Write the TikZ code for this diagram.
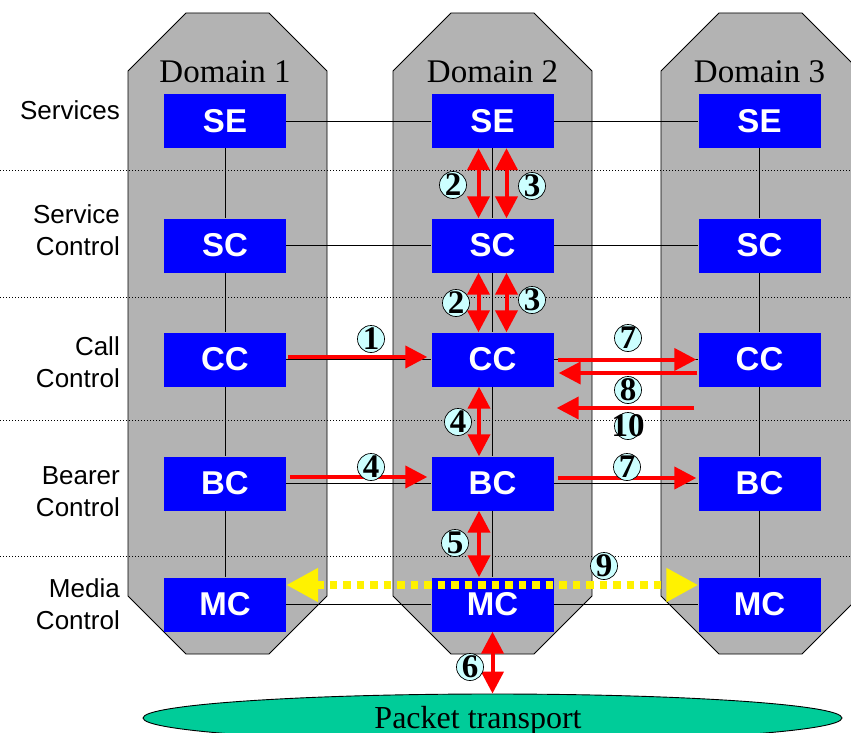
\documentclass[tikz,border=0pt]{standalone}
\usepackage{fontspec}
\setmainfont{Liberation Serif}
\setsansfont{Liberation Sans}
\usetikzlibrary{arrows.meta,shapes.geometric}
\definecolor{domgray}{HTML}{B3B3B3}
\definecolor{boxblue}{HTML}{0000FF}
\definecolor{seqcyan}{HTML}{CCFFFF}
\definecolor{transgreen}{HTML}{00CC99}
\newcommand{\seqnum}[1]{\makebox[0pt]{#1}}

\begin{document}
\begin{tikzpicture}[x=1pt,y=-1pt,>={Triangle[length=22pt,width=22pt]}]
	\tikzstyle{domainbox}=[fill=domgray, draw=black, line width=0.9pt]
	\tikzstyle{fe}=[rectangle, fill=boxblue, text=white, minimum width=122pt, minimum height=54pt, font=\sffamily\bfseries\fontsize{33}{33}\selectfont]
	\tikzstyle{layer}=[anchor=east, align=right, inner sep=0pt, font=\sffamily\fontsize{26}{32}\selectfont]
	\tikzstyle{link}=[draw=black, line width=0.9pt]
	\tikzstyle{layersep}=[draw=black, line width=0.8pt, dash pattern=on 1pt off 2pt]
	\tikzstyle{msg}=[draw=red, line width=4pt]
	\tikzstyle{media}=[draw=yellow, line width=8pt, dash pattern=on 7.5pt off 6pt, {Triangle[length=32pt,width=32pt]}-{Triangle[length=32pt,width=32pt]}]
	\tikzstyle{seq}=[circle, draw=black, line width=0.7pt, fill=seqcyan, minimum size=27pt, inner sep=0pt, font=\bfseries\fontsize{33}{33}\selectfont]

	\useasboundingbox (0,0) rectangle (851,733);

	% domains
	\foreach \l in {128,393,661}
		\draw[domainbox] (\l,71) -- (\l+58,13) -- (\l+141,13) -- (\l+199,71) -- (\l+199,596) -- (\l+141,654) -- (\l+58,654) -- (\l,596) -- cycle;
	\foreach \d/\x in {1/225,2/492.5,3/759.5}
		\node[anchor=base, font=\fontsize{33}{33}\selectfont] (dom\d) at (\x,83) {Domain \d};

	% layers
	\foreach \y in {170,297,420,556}
		\draw[layersep] (0,\y) -- (851,\y);
	\node[layer] (lse) at (120,110) {Services};
	\node[layer] (lsc) at (120,230) {Service\\Control};
	\node[layer] (lcc) at (120,362) {Call\\Control};
	\node[layer] (lbc) at (120,492) {Bearer\\Control};
	\node[layer] (lmc) at (120,604) {Media\\Control};

	% functional entities
	\foreach \d/\x in {1/225,2/492.5,3/759.5} {
		\node[fe] (se\d) at (\x,121) {SE};
		\node[fe] (sc\d) at (\x,245.5) {SC};
		\node[fe] (cc\d) at (\x,359.5) {CC};
		\node[fe] (bc\d) at (\x,483.5) {BC};
		\node[fe] (mc\d) at (\x,604.5) {MC};
	}
	\foreach \r in {se,sc,cc,bc,mc}
		\draw[link] (\r1.east) -- (\r2.west) (\r2.east) -- (\r3.west);
	\foreach \d in {1,2,3}
		\draw[link] (se\d) -- (sc\d) (sc\d) -- (cc\d) (cc\d) -- (bc\d) (bc\d) -- (mc\d);

	\node[ellipse, draw=black, line width=0.9pt, fill=transgreen, minimum width=699pt, minimum height=48pt, inner sep=0pt] (pt) at (492.5,718) {};
	\node[anchor=base, font=\fontsize{32}{32}\selectfont] (ptlabel) at (478,728) {Packet transport};

	% messages
	\draw[msg,<->] ([xshift=-14pt]se2.south) -- ([xshift=-14pt]sc2.north);
	\draw[msg,<->] ([xshift=14pt]se2.south) -- ([xshift=14pt]sc2.north);
	\draw[msg,<->] ([xshift=-14pt]sc2.south) -- ([xshift=-14pt]cc2.north);
	\draw[msg,<->] ([xshift=14pt]sc2.south) -- ([xshift=14pt]cc2.north);
	\draw[msg,->] ([xshift=2pt,yshift=2.5pt]cc1.east) -- ([xshift=-4pt,yshift=2.5pt]cc2.west);
	\draw[msg,->] ([xshift=4pt]cc2.east) -- ([xshift=-2pt]cc3.west);
	\draw[msg,->] ([xshift=-1pt,yshift=-13.5pt]cc3.west) -- ([xshift=5pt,yshift=-13.5pt]cc2.east);
	\draw[msg,->] ([xshift=-4pt,yshift=-48.5pt]cc3.west) -- ([xshift=3pt,yshift=-48.5pt]cc2.east);
	\draw[msg,<->] ([xshift=-13.5pt]cc2.south) -- ([xshift=-13.5pt]bc2.north);
	\draw[msg,->] ([xshift=4pt,yshift=6.5pt]bc1.east) -- ([xshift=-4pt,yshift=6.5pt]bc2.west);
	\draw[msg,->] ([xshift=4pt,yshift=5.5pt]bc2.east) -- ([xshift=-2pt,yshift=5.5pt]bc3.west);
	\draw[msg,<->] ([xshift=-13.5pt]bc2.south) -- ([xshift=-13.5pt]mc2.north);
	\draw[msg,<->] (mc2.south) -- (pt.north);
	\draw[media] ([yshift=19.5pt]mc1.east) -- ([yshift=19.5pt]mc3.west);

	% sequence numbers
	\node[seq] (n1) at (371,339) {\seqnum{1}};
	\node[seq] (n2a) at (453,185) {\seqnum{2}};
	\node[seq] (n3a) at (532,186) {\seqnum{3}};
	\node[seq] (n2b) at (456,303) {\seqnum{2}};
	\node[seq] (n3b) at (532,300) {\seqnum{3}};
	\node[seq] (n7a) at (628,338) {\seqnum{7}};
	\node[seq] (n8) at (628,390) {\seqnum{8}};
	\node[seq] (n10) at (628,426) {\seqnum{10}};
	\node[seq] (n4a) at (458,422) {\seqnum{4}};
	\node[seq] (n4b) at (371,467) {\seqnum{4}};
	\node[seq] (n7b) at (627,467) {\seqnum{7}};
	\node[seq] (n5) at (455,543) {\seqnum{5}};
	\node[seq] (n9) at (604,566) {\seqnum{9}};
	\node[seq] (n6) at (470,667) {\seqnum{6}};
\end{tikzpicture}
\end{document}
